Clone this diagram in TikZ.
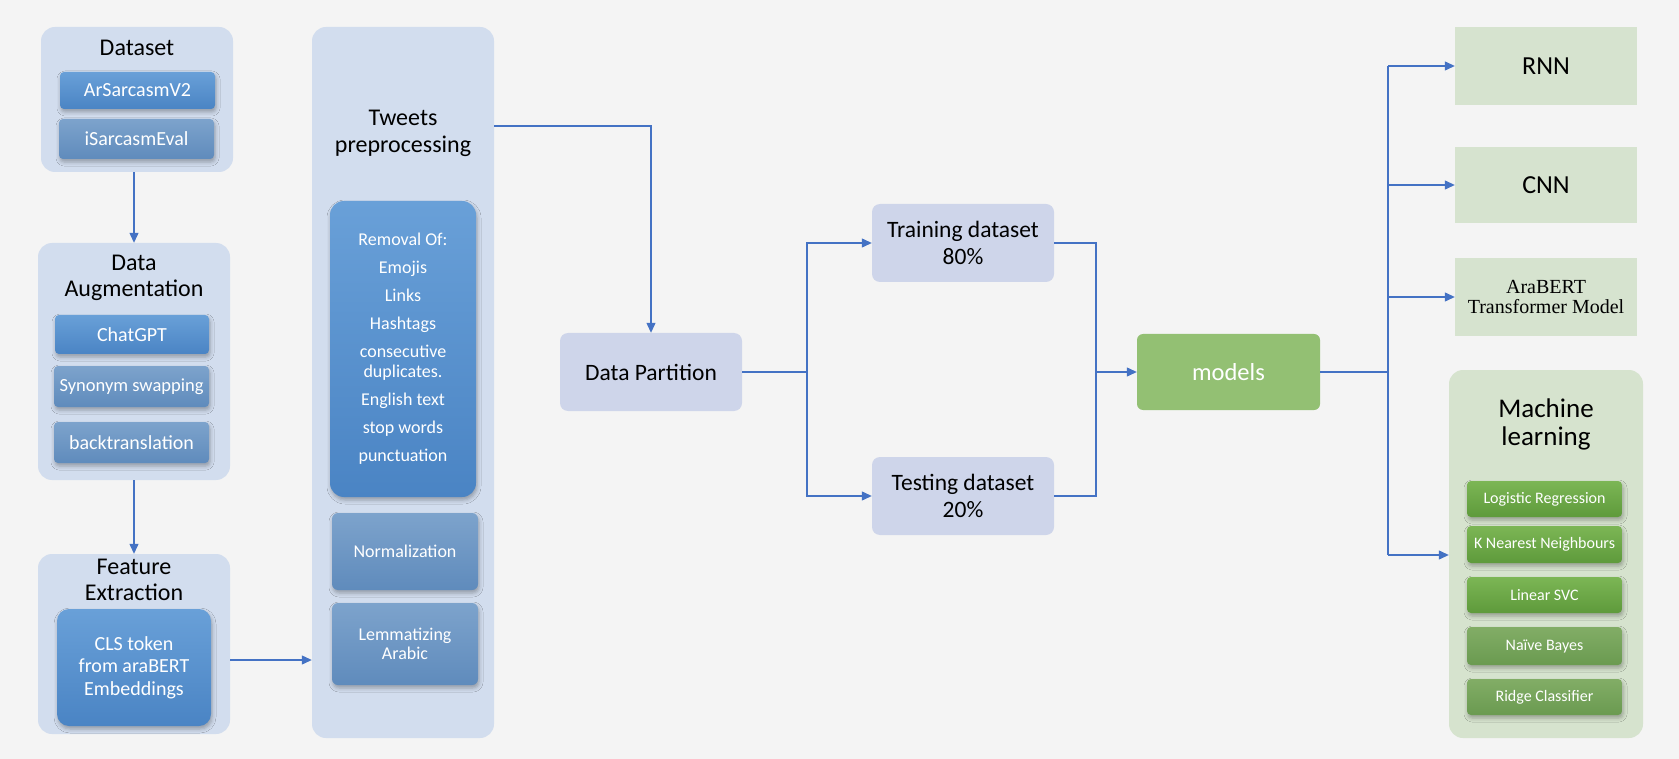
\documentclass[tikz,border=0pt]{standalone}
\usepackage{fontspec}
\setmainfont{Carlito}
\newfontfamily\timesf{Liberation Serif}
\usetikzlibrary{arrows.meta,shadows.blur,calc}
\definecolor{bgc}{HTML}{F4F4F4}
\definecolor{contblue}{HTML}{D2DDEE}
\definecolor{bluetop}{HTML}{69A0D8}
\definecolor{bluebot}{HTML}{4A84C4}
\definecolor{fadetop}{HTML}{7DA3CC}
\definecolor{fadebot}{HTML}{5F8BBC}
\definecolor{lav}{HTML}{CED5EA}
\definecolor{modgreen}{HTML}{93C073}
\definecolor{lgreen}{HTML}{D6E3CF}
\definecolor{mlcont}{HTML}{D6E3CE}
\definecolor{gtop}{HTML}{7CB655}
\definecolor{gbot}{HTML}{5E9A3B}
\definecolor{gftop}{HTML}{82AD66}
\definecolor{gfbot}{HTML}{6A9A50}
\definecolor{arrc}{HTML}{4472C4}
\begin{document}
\begin{tikzpicture}[x=1pt,y=-1pt,
  cont/.style={rounded corners=14pt, fill=contblue, draw=none, inner sep=0pt},
  mlbox/.style={rounded corners=14pt, fill=mlcont, draw=none, inner sep=0pt},
  title/.style={align=center, text=black, font=\fontsize{24}{26}\selectfont},
  ibox/.style={rounded corners=4pt, text=white, inner sep=0pt, align=center,
     blur shadow={shadow xshift=1pt, shadow yshift=-3pt, shadow blur radius=4pt, shadow opacity=30}},
  bluebox/.style={ibox, top color=bluetop, bottom color=bluebot},
  fadebox/.style={ibox, top color=fadetop, bottom color=fadebot},
  gbox/.style={ibox, top color=gtop, bottom color=gbot, font=\fontsize{16}{18}\selectfont},
  gfbox/.style={ibox, top color=gftop, bottom color=gfbot, font=\fontsize{16}{18}\selectfont},
  lavbox/.style={rounded corners=8pt, fill=lav, inner sep=0pt, align=center, font=\fontsize{23.5}{27}\selectfont},
  sqbox/.style={fill=lgreen, inner sep=0pt, align=center},
  arr/.style={draw=arrc, line width=1.2pt, -{Triangle[length=10pt,width=9pt]}},
  ln/.style={draw=arrc, line width=1.2pt}
]
\fill[bgc] (0,0) rectangle (1679,759);
\useasboundingbox (0,0) rectangle (1679,759);

% ---- Dataset
\node[cont, minimum width=192pt, minimum height=145pt] (dsC) at (137,99.5) {};
\node[title] (dsT) at (137,48) {Dataset};
\node[bluebox, minimum width=155pt, minimum height=37pt, font=\fontsize{20}{22}\selectfont] (ars) at (137.5,90.5) {ArSarcasmV2};
\node[fadebox, minimum width=155pt, minimum height=40pt, font=\fontsize{20}{22}\selectfont] (isa) at (136.5,139) {iSarcasmEval};

% ---- Data augmentation
\node[cont, minimum width=192pt, minimum height=237pt] (daC) at (134,361.5) {};
\node[title] (daT) at (134,278) {Data\\Augmentation};
\node[bluebox, minimum width=154pt, minimum height=39pt, font=\fontsize{20}{22}\selectfont] (gpt) at (132,334.5) {ChatGPT};
\node[fadebox, minimum width=155pt, minimum height=41pt, font=\fontsize{18.5}{22}\selectfont] (syn) at (131.5,386.5) {Synonym swapping};
\node[fadebox, minimum width=155pt, minimum height=41pt, font=\fontsize{20}{22}\selectfont] (bt) at (131.5,442.5) {backtranslation};

% ---- Feature extraction
\node[cont, minimum width=192pt, minimum height=180pt] (feC) at (134,644) {};
\node[title] (feT) at (134,580) {Feature\\Extraction};
\node[bluebox, rounded corners=12pt, minimum width=154pt, minimum height=117pt, font=\fontsize{20}{22.5}\selectfont] (cls) at (134,667.5) {CLS token\\from araBERT\\Embeddings};

% ---- Tweets preprocessing
\node[cont, minimum width=182pt, minimum height=711pt] (twC) at (403,382.5) {};
\node[title, font=\fontsize{24}{27}\selectfont] (twT) at (403,133.5) {Tweets\\preprocessing};
\node[bluebox, rounded corners=14pt, minimum width=146pt, minimum height=296pt, font=\fontsize{18}{20}\selectfont] (rem) at (403,349)
  {Removal Of:\\[8pt]Emojis\\[8pt]Links\\[8pt]Hashtags\\[8pt]consecutive\\duplicates.\\[8pt]English text\\[8pt]stop words\\[8pt]punctuation};
\node[fadebox, rounded corners=6pt, minimum width=146pt, minimum height=77pt, font=\fontsize{18}{20}\selectfont] (norm) at (405,551.5) {Normalization};
\node[fadebox, rounded corners=6pt, minimum width=146pt, minimum height=82pt, font=\fontsize{18}{19}\selectfont] (lem) at (405,644) {Lemmatizing\\Arabic};

% ---- Partition
\node[lavbox, minimum width=182pt, minimum height=78pt] (dp) at (651,372) {Data Partition};
\node[lavbox, minimum width=182pt, minimum height=78pt] (train) at (963,243) {Training dataset\\80\%};
\node[lavbox, minimum width=182pt, minimum height=78pt] (test) at (963,496) {Testing dataset\\20\%};

% ---- models
\node[rounded corners=6pt, fill=modgreen, text=white, minimum width=183pt, minimum height=76pt, font=\fontsize{24.5}{27}\selectfont] (mod) at (1228.5,372) {models};
\node[sqbox, minimum width=182pt, minimum height=78pt, font=\fontsize{26}{28}\selectfont] (rnn) at (1546,66) {RNN};
\node[sqbox, minimum width=182pt, minimum height=76pt, font=\fontsize{26}{28}\selectfont] (cnn) at (1546,185) {CNN};
\node[sqbox, minimum width=182pt, minimum height=78pt, font=\timesf\fontsize{20}{20.5}\selectfont] (bert) at (1546,297) {AraBERT\\Transformer Model};

% ---- Machine learning
\node[mlbox, minimum width=194pt, minimum height=368pt] (mlC) at (1546,554) {};
\node[title, font=\fontsize{27}{28}\selectfont] (mlT) at (1546,424) {Machine\\learning};
\node[gbox, minimum width=155pt, minimum height=36pt] (lr) at (1544.5,499) {Logistic Regression};
\node[gbox, minimum width=155pt, minimum height=37pt] (knn) at (1544.5,544.5) {K Nearest Neighbours};
\node[gbox, minimum width=155pt, minimum height=36pt] (svc) at (1544.5,595) {Linear SVC};
\node[gfbox, minimum width=155pt, minimum height=38pt] (nb) at (1544.5,646) {Naïve Bayes};
\node[gfbox, minimum width=155pt, minimum height=36pt] (rc) at (1544.5,697) {Ridge Classifier};

% ---- connectors
\coordinate (j1) at (250,660);
\coordinate (j2) at (560,126);
\coordinate (j3) at (807,372);
\coordinate (j4) at (1096,372);
\coordinate (j5) at (1388,372);
\coordinate (j6) at (1400,555);

\draw[arr] (daC.north |- dsC.south) -- (daC.north);
\draw[arr] (daC.south) -- (feC.north);
\draw[arr] (feC.east |- j1) -- (twC.west |- j1);
\draw[arr] (twC.east |- j2) -| (dp.north);
\draw[ln] (dp.east) -- (j3);
\draw[arr] (j3) |- (train.west);
\draw[arr] (j3) |- (test.west);
\draw[ln] (train.east) -| (j4);
\draw[ln] (test.east) -| (j4);
\draw[arr] (j4) -- (mod.west);
\draw[ln] (mod.east) -- (j5);
\draw[ln] (j5 |- rnn.west) -- (j5 |- j6);
\draw[arr] (j5 |- rnn.west) -- (rnn.west);
\draw[arr] (j5 |- cnn.west) -- (cnn.west);
\draw[arr] (j5 |- bert.west) -- (bert.west);
\draw[arr] (j5 |- j6) -- (mlC.west |- j6);
\end{tikzpicture}
\end{document}
